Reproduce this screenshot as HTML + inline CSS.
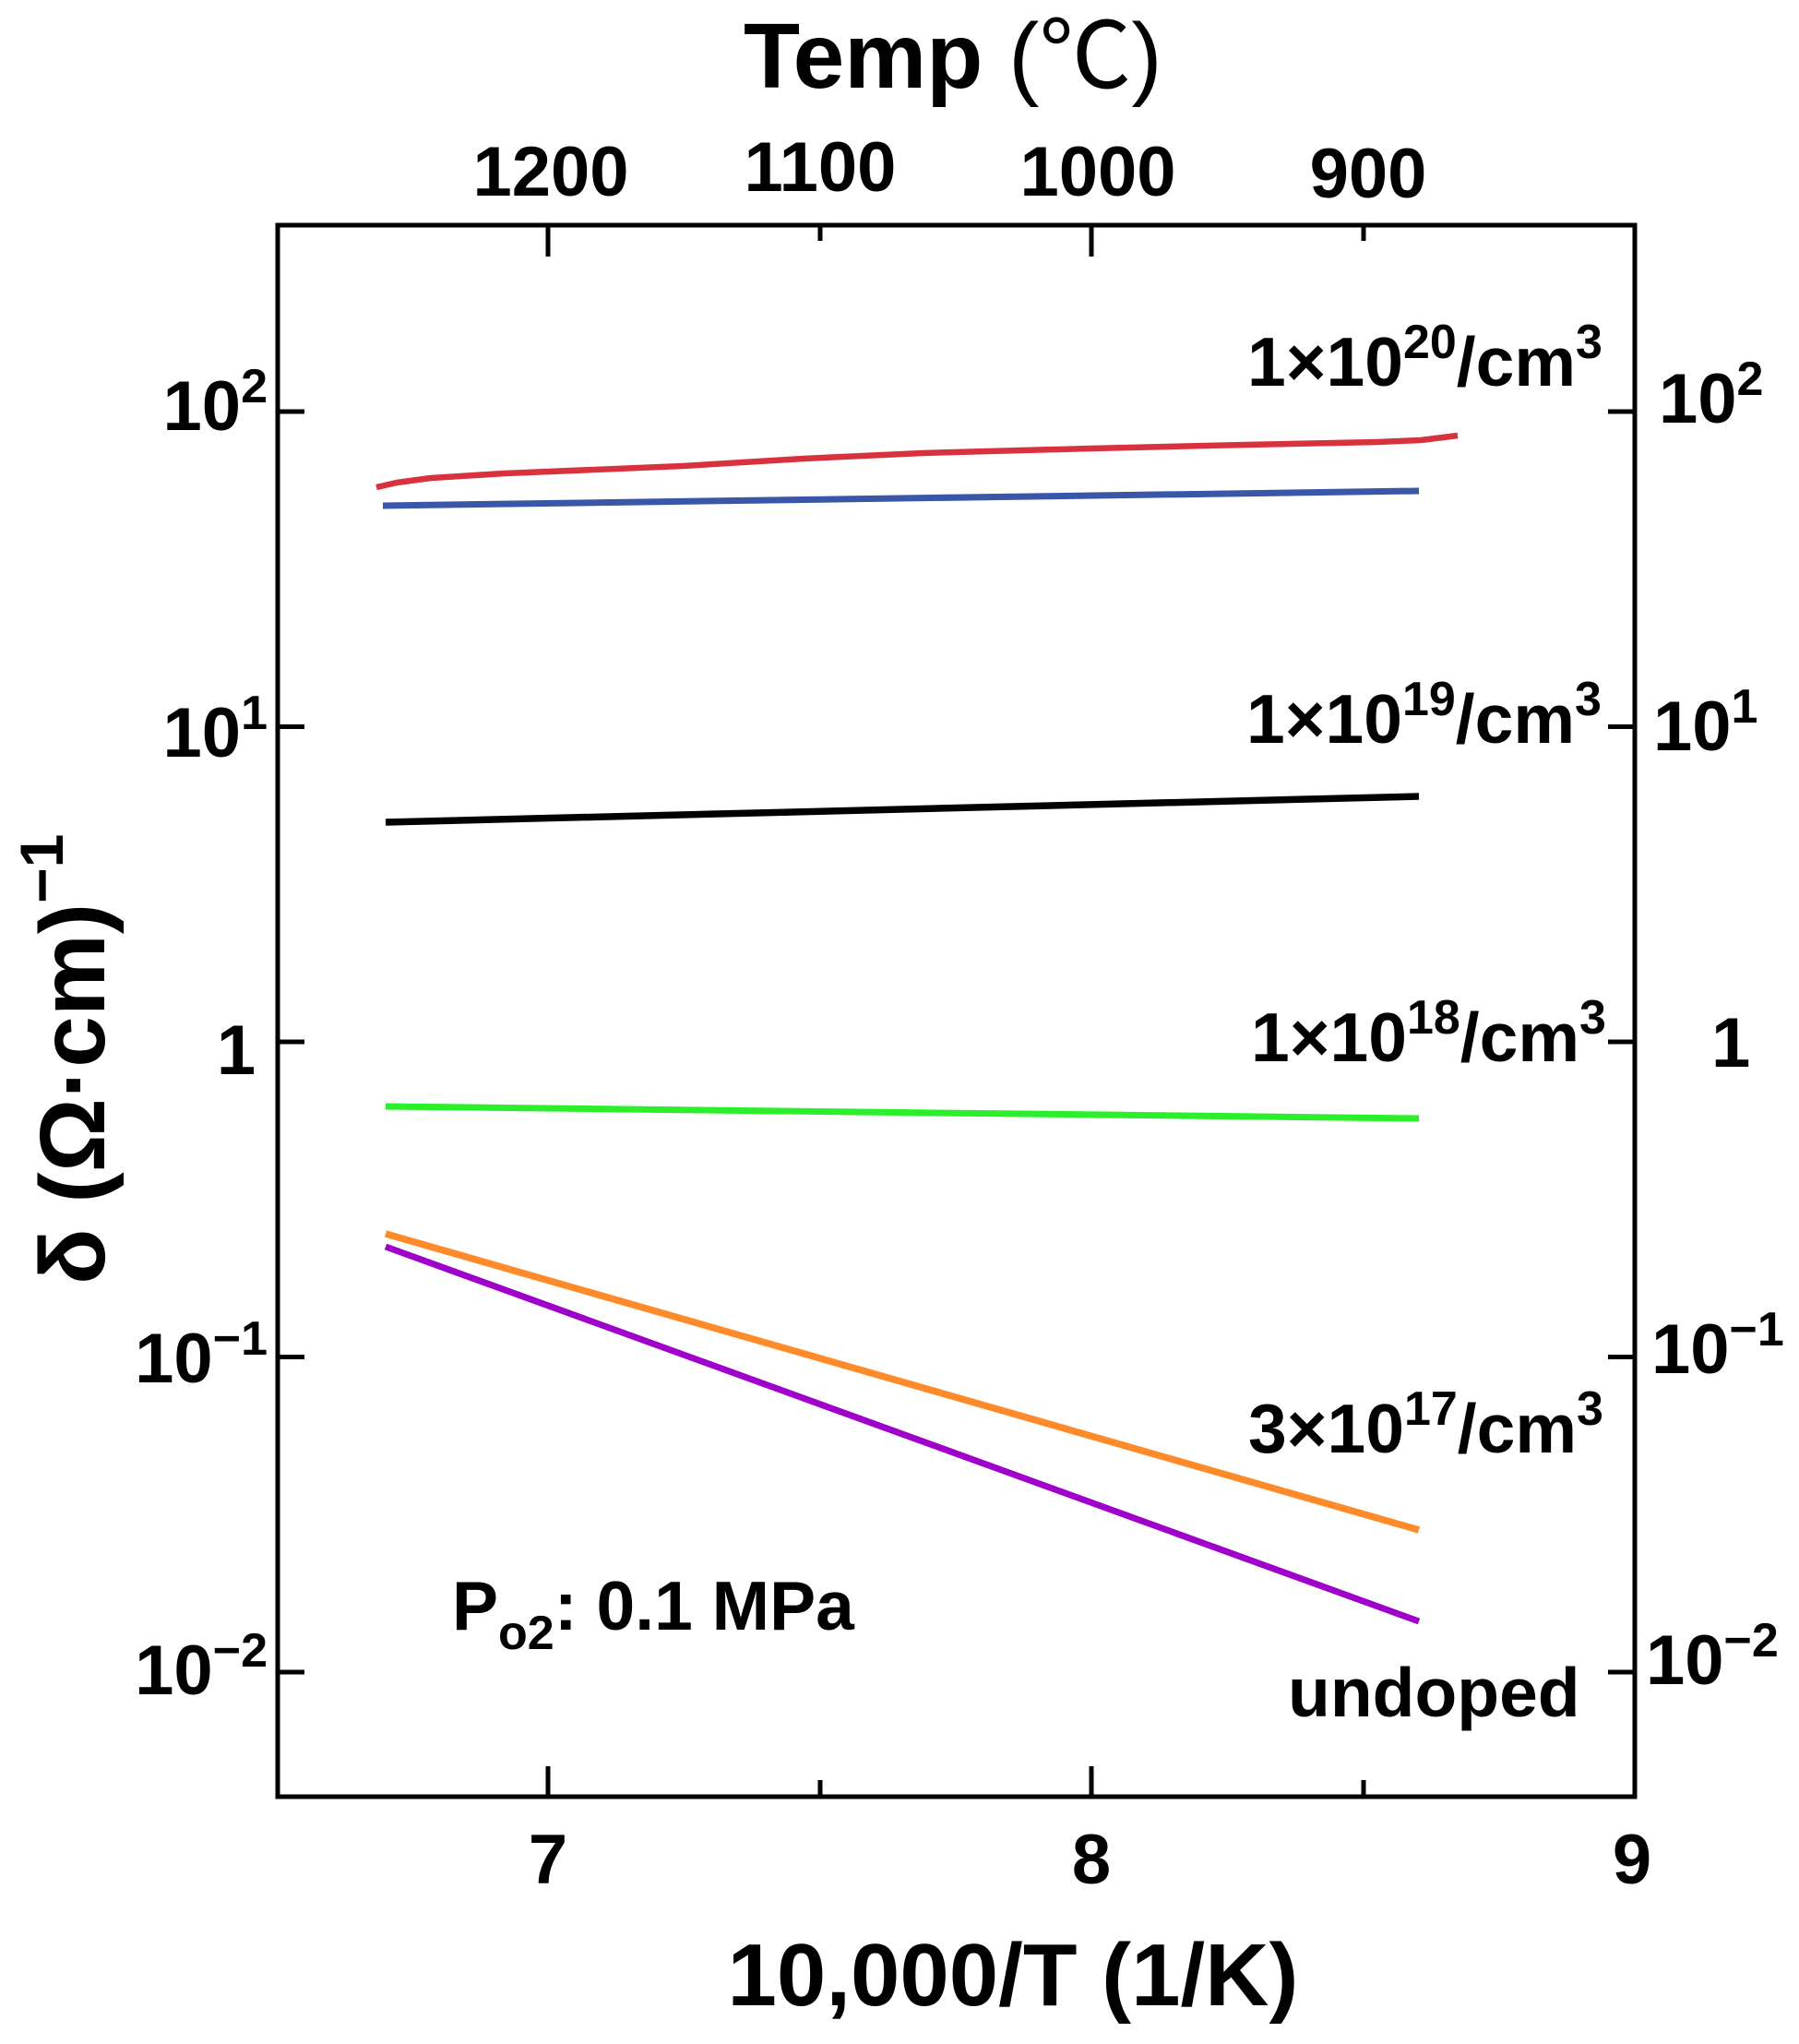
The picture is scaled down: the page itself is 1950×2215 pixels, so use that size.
<!DOCTYPE html>
<html>
<head>
<meta charset="utf-8">
<style>
  html, body { margin: 0; padding: 0; background: #ffffff; }
  svg { display: block; }
  text { font-family: "Liberation Sans", Arial, "DejaVu Sans", sans-serif; font-weight: bold; fill: #000; }
</style>
</head>
<body>
<svg width="1950" height="2215" viewBox="0 0 1950 2215" xmlns="http://www.w3.org/2000/svg">
  <rect x="0" y="0" width="1950" height="2215" fill="#ffffff"/>

  <!-- Top title -->
  <text x="806" y="95" font-size="100">Temp <tspan font-weight="normal">(</tspan><tspan font-family="'Noto Sans CJK SC', 'DejaVu Sans', sans-serif" font-weight="normal">℃</tspan><tspan font-weight="normal">)</tspan></text>

  <!-- Top tick labels -->
  <g font-size="76" text-anchor="middle">
    <text x="597" y="212">1200</text>
    <text x="889" y="207">1100</text>
    <text x="1190" y="212">1000</text>
    <text x="1483" y="214">900</text>
  </g>

  <!-- Plot frame -->
  <rect x="301" y="244" width="1471" height="1703" fill="none" stroke="#000" stroke-width="5"/>

  <!-- Ticks -->
  <g stroke="#000" stroke-width="5">
    <line x1="301" y1="446" x2="330" y2="446"/>
    <line x1="301" y1="787.5" x2="330" y2="787.5"/>
    <line x1="301" y1="1129" x2="330" y2="1129"/>
    <line x1="301" y1="1470.5" x2="330" y2="1470.5"/>
    <line x1="301" y1="1812" x2="330" y2="1812"/>
    <line x1="1743" y1="446" x2="1772" y2="446"/>
    <line x1="1743" y1="787.5" x2="1772" y2="787.5"/>
    <line x1="1743" y1="1129" x2="1772" y2="1129"/>
    <line x1="1743" y1="1470.5" x2="1772" y2="1470.5"/>
    <line x1="1743" y1="1812" x2="1772" y2="1812"/>
    <line x1="594" y1="1914" x2="594" y2="1947"/>
    <line x1="889" y1="1929" x2="889" y2="1947"/>
    <line x1="1183" y1="1914" x2="1183" y2="1947"/>
    <line x1="1478" y1="1929" x2="1478" y2="1947"/>
    <line x1="594" y1="244" x2="594" y2="278"/>
    <line x1="889" y1="244" x2="889" y2="261"/>
    <line x1="1183" y1="244" x2="1183" y2="278"/>
    <line x1="1478" y1="244" x2="1478" y2="261"/>
  </g>

  <!-- Left tick labels -->
  <g font-size="76" text-anchor="end">
    <text x="290" y="466">10<tspan dy="-30" font-size="52">2</tspan></text>
    <text x="290" y="820">10<tspan dy="-30" font-size="52">1</tspan></text>
    <text x="290" y="1498">10<tspan dy="-30" font-size="52">−1</tspan></text>
    <text x="290" y="1836">10<tspan dy="-30" font-size="52">−2</tspan></text>
  </g>
  <text x="256" y="1164" font-size="76" text-anchor="middle">1</text>

  <!-- Right tick labels -->
  <g font-size="76">
    <text x="1798" y="458">10<tspan dy="-30" font-size="52">2</tspan></text>
    <text x="1792" y="813">10<tspan dy="-30" font-size="52">1</tspan></text>
    <text x="1855" y="1156">1</text>
    <text x="1790" y="1488">10<tspan dy="-30" font-size="52">−1</tspan></text>
    <text x="1784" y="1825">10<tspan dy="-30" font-size="52">−2</tspan></text>
  </g>

  <!-- Bottom tick labels -->
  <g font-size="76" text-anchor="middle">
    <text x="594" y="2041">7</text>
    <text x="1183" y="2041">8</text>
    <text x="1769" y="2041">9</text>
  </g>

  <!-- Bottom title -->
  <text x="1098" y="2173" font-size="96" text-anchor="middle">10,000/T (1/K)</text>

  <!-- Left y title (rotated) -->
  <text transform="translate(113,1392) rotate(-90)" font-size="100">δ (Ω·cm)<tspan dy="-45" font-size="66">−1</tspan></text>

  <!-- Series -->
  <g fill="none" stroke-linecap="butt" stroke-linejoin="round">
    <polyline stroke="#d8323f" stroke-width="6.5"
      points="408,528 430,523 467,518 547,513 740,505 871,497 1000,491 1182,486 1350,482 1493,479 1540,477 1580,472"/>
    <polyline stroke="#3a56a8" stroke-width="7" points="415,548 1538,532"/>
    <polyline stroke="#000000" stroke-width="7.5" points="418,891 1538,863"/>
    <polyline stroke="#2bef2b" stroke-width="7" points="418,1199 1538,1212"/>
    <polyline stroke="#ff8a2a" stroke-width="7.5" points="418,1337 1538,1658"/>
    <polyline stroke="#a000cc" stroke-width="7" points="418,1351 1538,1757"/>
  </g>

  <!-- Curve labels -->
  <g font-size="75">
    <text x="1352" y="418">1×10<tspan dy="-30" font-size="52">20</tspan><tspan dy="30">/cm</tspan><tspan dy="-30" font-size="52">3</tspan></text>
    <text x="1351" y="805">1×10<tspan dy="-30" font-size="52">19</tspan><tspan dy="30">/cm</tspan><tspan dy="-30" font-size="52">3</tspan></text>
    <text x="1356" y="1150">1×10<tspan dy="-30" font-size="52">18</tspan><tspan dy="30">/cm</tspan><tspan dy="-30" font-size="52">3</tspan></text>
    <text x="1353" y="1574">3×10<tspan dy="-30" font-size="52">17</tspan><tspan dy="30">/cm</tspan><tspan dy="-30" font-size="52">3</tspan></text>
    <text x="1396" y="1860">undoped</text>
    <text x="490" y="1766">P<tspan dy="21" font-size="52">o2</tspan><tspan dy="-21">: 0.1 MPa</tspan></text>
  </g>
</svg>
</body>
</html>
